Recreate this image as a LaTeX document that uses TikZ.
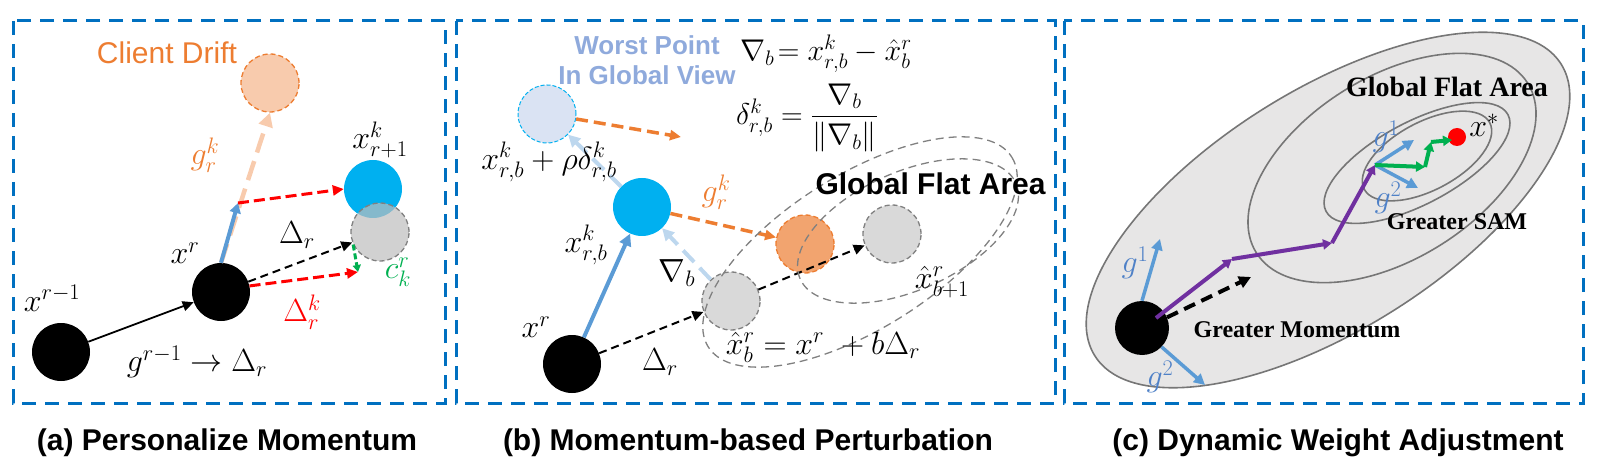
\documentclass[tikz,border=0pt]{standalone}
\usepackage{fix-cm}
\usepackage{amsmath}
\usepackage[no-math]{fontspec}
\newfontfamily\arialfont{Liberation Sans}
\newfontfamily\timesfont{Liberation Serif}
\usetikzlibrary{arrows.meta}
\definecolor{boxblue}{RGB}{0,112,192}
\definecolor{drift}{RGB}{237,125,49}
\definecolor{peach}{RGB}{248,203,173}
\definecolor{cyanball}{RGB}{0,176,240}
\definecolor{stepblue}{RGB}{91,155,213}
\definecolor{paleblue}{RGB}{189,215,238}
\definecolor{worst}{RGB}{143,170,220}
\definecolor{worstfill}{RGB}{218,227,243}
\definecolor{ballgray}{RGB}{217,217,217}
\definecolor{shadow}{RGB}{190,190,190}
\definecolor{flatgray}{RGB}{231,230,230}
\definecolor{rimgray}{RGB}{118,118,118}
\definecolor{traj}{RGB}{112,48,160}
\definecolor{corr}{RGB}{0,176,80}
\definecolor{glabel}{RGB}{79,129,199}

\begin{document}
\begin{tikzpicture}[x=1pt,y=-1pt,
  ball/.style={circle,inner sep=0pt,minimum size=58pt},
  ghost/.style={ball,draw=gray,line width=1.3pt,dash pattern=on 5pt off 3pt},
  lbl/.style={inner sep=0pt,font=\fontsize{32}{36}\selectfont},
  pbox/.style={draw=boxblue,line width=3pt,dash pattern=on 14pt off 9pt},
  subcap/.style={anchor=base,font=\arialfont\bfseries\fontsize{30}{36}\selectfont},
  tip/.style={-{Triangle[length=11pt,width=10pt]}},
  dsh/.style={dash pattern=on 8pt off 5pt},
  serifbold/.style={font=\timesfont\bfseries\fontsize{24}{28}\selectfont}]
\useasboundingbox (0,0) rectangle (1601,465);

\draw[pbox] (13,21) rectangle (445,403);
\node[ball,fill=black] (xa0) at (61,352) {};
\node[ball,fill=black] (xa1) at (221,292) {};
\node[ball,fill=peach,draw=drift,line width=1.3pt,dash pattern=on 5pt off 3pt] (drift) at (270,83) {};
\node[ball,fill=cyanball] (xa2) at (373,189) {};
\node[ghost,fill=shadow,fill opacity=0.7] (ca) at (380,232) {};
\coordinate (ga) at (238,203);
\coordinate (ck) at (358,272);
\draw[peach,line width=4.5pt,dash pattern=on 20pt off 9pt,-{Triangle[length=14pt,width=14pt]}] (xa1.north) -- (drift.south);
\draw[stepblue,line width=4pt,-{Triangle[length=10pt,width=11pt]}] (xa1.north) -- (ga);
\draw[red,line width=3pt,dash pattern=on 11pt off 5pt,tip] (ga) -- (xa2.west);
\draw[line width=2pt,dsh,tip] (xa1) -- (ca);
\draw[red,line width=3pt,dash pattern=on 11pt off 5pt,tip] (xa1.12) -- (ck);
\draw[corr,line width=3pt,dash pattern=on 6pt off 3pt,-{Triangle[length=7pt,width=8pt]}] (ca.205) -- (ck);
\draw[line width=1.8pt,tip] (xa0) -- (xa1);
\node[text=drift,font=\arialfont\fontsize{30}{36}\selectfont] at (167,53) {Client Drift};
\node[lbl] at (52,298) {$x^{r-1}$};
\node[lbl] at (185,253) {$x^r$};
\node[lbl] at (197,362) {$g^{r-1}\rightarrow\Delta_r$};
\node[lbl,text=drift] at (205,155) {$g_r^k$};
\node[lbl] at (380,140) {$x_{r+1}^k$};
\node[lbl] at (297,235) {$\Delta_r$};
\node[lbl,text=red] at (302,312) {$\Delta_r^k$};
\node[lbl,text=corr] at (398,272) {$c_k^r$};

\draw[pbox] (456,21) rectangle (1055,403);
\node[ball,fill=black] (xb0) at (572,364) {};
\node[ball,fill=cyanball] (xbk) at (642,207) {};
\node[ball,fill=worstfill,draw=cyanball,line width=1pt,dash pattern=on 4pt off 2pt] (wp) at (547,114) {};
\node[ghost,fill=ballgray] (hb) at (731,301) {};
\node[ball,fill=drift!70,draw=drift,line width=1.3pt,dash pattern=on 5pt off 3pt] (og) at (805,244) {};
\node[ghost,fill=ballgray] (hb1) at (892,234) {};
\coordinate (wend) at (681,137);
\draw[stepblue,line width=4pt,-{Triangle[length=12pt,width=12pt]}] (xb0) -- (xbk);
\draw[paleblue,line width=4pt,dash pattern=on 16pt off 8pt,-{Triangle[length=12pt,width=12pt]}] (xbk) -- (wp);
\draw[paleblue,line width=4pt,dash pattern=on 16pt off 8pt,-{Triangle[length=12pt,width=12pt]}] (hb) -- (xbk);
\draw[drift,line width=3.5pt,dash pattern=on 12pt off 6pt,tip] (wp) -- (wend);
\draw[drift,line width=3.5pt,dash pattern=on 12pt off 6pt,tip] (xbk) -- (og);
\draw[line width=2pt,dsh,tip] (xb0) -- (hb);
\draw[line width=2pt,dsh,tip] (hb) -- (hb1);
\draw[gray,line width=1.3pt,dash pattern=on 8pt off 5pt,rotate around={32:(860,252)}] (860,252) ellipse [x radius=179,y radius=77];
\draw[gray,line width=1.3pt,dash pattern=on 8pt off 5pt,rotate around={24:(908,231)}] (908,231) ellipse [x radius=118,y radius=59];
\node[text=worst,align=center,font=\arialfont\bfseries\fontsize{26}{30}\selectfont] at (647,60) {Worst Point\\In Global View};
\node[lbl,anchor=west,font=\fontsize{30}{34}\selectfont] at (740,54) {$\nabla_b\!= x^k_{r,b} - \hat{x}^r_b$};
\node[lbl,anchor=west,font=\fontsize{30}{34}\selectfont] at (736,118) {$\delta^k_{r,b} = \dfrac{\nabla_b}{\|\nabla_b\|}$};
\node[anchor=west,font=\arialfont\bfseries\fontsize{30}{34}\selectfont] at (812,184) {Global Flat Area};
\node[lbl] at (536,327) {$x^r$};
\node[lbl] at (586,245) {$x^k_{r,b}$};
\node[lbl] at (549,162) {$x^k_{r,b}+\rho\delta^k_{r,b}$};
\node[lbl] at (677,273) {$\nabla_b$};
\node[lbl] at (660,362) {$\Delta_r$};
\node[lbl,text=drift] at (716,192) {$g_r^k$};
\node[lbl] at (942,282) {$\hat{x}^r_{b+1}$};
\node[lbl] at (823,347) {$\hat{x}^r_b = x^r\ +b\Delta_r$};

\draw[pbox] (1064,21) rectangle (1583,403);
\draw[rimgray,line width=1.6pt,fill=flatgray,rotate around={32:(1328,210)}] (1328,210) ellipse [x radius=275,y radius=120];
\draw[rimgray,line width=1.6pt,rotate around={32:(1392,168)}] (1392,168) ellipse [x radius=160,y radius=91];
\draw[rimgray,line width=1.6pt,rotate around={28:(1417,163)}] (1417,163) ellipse [x radius=103,y radius=41];
\draw[rimgray,line width=1.6pt,rotate around={28:(1427,156)}] (1427,156) ellipse [x radius=71,y radius=34];
\node[ball,minimum size=54pt,fill=black] (xc0) at (1142,328) {};
\node[circle,inner sep=0pt,minimum size=18pt,fill=red] (xs) at (1457,137) {};
\coordinate (p0) at (1156,318);
\coordinate (p1) at (1232,259);
\coordinate (p2) at (1332,243);
\coordinate (p3) at (1375,165);
\coordinate (q1) at (1425,167);
\coordinate (q2) at (1431,142);
\coordinate (q3) at (1452,140);
\coordinate (u1) at (1160,239);
\coordinate (u2) at (1205,385);
\coordinate (v1) at (1414,140);
\coordinate (v2) at (1418,188);
\coordinate (mend) at (1251,277);
\draw[stepblue,line width=3.5pt,-{Triangle[length=11pt,width=11pt]}] (xc0.north) -- (u1);
\draw[stepblue,line width=3.5pt,-{Triangle[length=11pt,width=11pt]}] (xc0.-44) -- (u2);
\draw[stepblue,line width=3.5pt,-{Triangle[length=11pt,width=11pt]}] (p3) -- (v1);
\draw[stepblue,line width=3.5pt,-{Triangle[length=11pt,width=11pt]}] (p3) -- (v2);
\draw[line width=4pt,dash pattern=on 12pt off 7pt,-{Triangle[length=12pt,width=12pt]}] (xc0.23) -- (mend);
\draw[traj,line width=4pt,-{Triangle[length=9pt,width=10pt]}] (p0) -- (p1);
\draw[traj,line width=4pt,-{Triangle[length=9pt,width=10pt]}] (p1) -- (p2);
\draw[traj,line width=4pt,-{Triangle[length=9pt,width=10pt]}] (p2) -- (p3);
\draw[corr,line width=4pt,-{Triangle[length=9pt,width=10pt]}] (p3) -- (q1);
\draw[corr,line width=4pt,-{Triangle[length=9pt,width=10pt]}] (q1) -- (q2);
\draw[corr,line width=4pt,-{Triangle[length=9pt,width=10pt]}] (q2) -- (q3);
\node[font=\timesfont\bfseries\fontsize{28}{32}\selectfont] at (1447,87) {Global Flat Area};
\node[serifbold] at (1457,222) {Greater SAM};
\node[serifbold] at (1297,330) {Greater Momentum};
\node[lbl] at (1484,125) {$x^*$};
\node[lbl,text=glabel] at (1135,263) {$g^1$};
\node[lbl,text=glabel] at (1160,377) {$g^2$};
\node[lbl,text=glabel] at (1386,137) {$g^1$};
\node[lbl,text=glabel] at (1388,198) {$g^2$};

\node[subcap] at (227,450) {(a) Personalize Momentum};
\node[subcap] at (748,450) {(b) Momentum-based Perturbation};
\node[subcap] at (1338,450) {(c) Dynamic Weight Adjustment};
\end{tikzpicture}
\end{document}
